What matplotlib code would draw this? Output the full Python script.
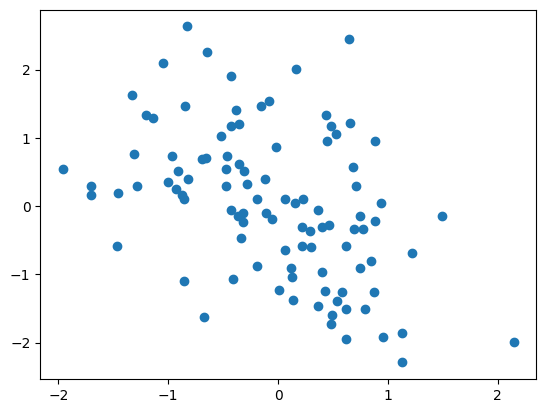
import matplotlib
matplotlib.use("Agg")
import matplotlib.pyplot as plt

x = [-0.83, 0.647, -0.647, -1.05, 0.16, -0.43, -1.33, -0.846, -0.158, -0.086,
     -0.38, -1.20, -1.14, 0.44, -0.43, -0.355, 0.48, 0.66, -0.52, 0.53,
     0.45, 0.88, -0.02, -1.315, -0.967, -0.466, -0.69, -0.66, -1.96, -0.91,
     -0.475, -0.358, -0.31, 0.68, -1.00, -0.82, -0.12, -0.285, -1.70, -1.28,
     -0.475, 0.71, -1.70, -1.46, -0.93, -0.875, -0.86, -0.19, 0.06, 0.155,
     0.225, 0.94, 0.36, -0.43, -0.36, -0.32, -0.32, -0.105, -0.057, 0.745,
     1.49, 0.215, 0.29, 0.40, 0.46, 0.69, 0.77, 0.88, -0.34, -1.47,
     0.215, 0.30, 0.62, 0.063, 1.22, 0.85, -0.19, 0.12, 0.745, 0.405,
     0.127, -0.41, -0.856, 0.006, 0.425, 0.58, 0.87, 0.136, 0.54, 0.36,
     0.62, 0.79, 0.49, -0.675, 0.48, 0.615, 0.96, 1.13, 2.146, 1.13]
y = [2.63, 2.44, 2.25, 2.09, 2.01, 1.91, 1.63, 1.47, 1.47, 1.54,
     1.40, 1.33, 1.29, 1.33, 1.17, 1.20, 1.18, 1.22, 1.02, 1.06,
     0.96, 0.95, 0.86, 0.77, 0.74, 0.74, 0.69, 0.71, 0.54, 0.52,
     0.54, 0.62, 0.52, 0.57, 0.36, 0.39, 0.40, 0.33, 0.30, 0.30,
     0.30, 0.30, 0.16, 0.185, 0.25, 0.165, 0.11, 0.10, 0.11, 0.04,
     0.10, 0.04, -0.05, -0.06, -0.14, -0.10, -0.24, -0.10, -0.195, -0.14,
     -0.14, -0.31, -0.37, -0.30, -0.28, -0.34, -0.34, -0.22, -0.47, -0.58,
     -0.58, -0.60, -0.59, -0.65, -0.69, -0.80, -0.88, -0.90, -0.91, -0.96,
     -1.04, -1.07, -1.09, -1.23, -1.25, -1.26, -1.26, -1.38, -1.395, -1.47,
     -1.51, -1.50, -1.60, -1.63, -1.73, -1.94, -1.91, -1.86, -1.995, -2.29]

fig, ax = plt.subplots(figsize=(6.4, 4.8), dpi=100)
ax.scatter(x, y)
fig.savefig("out.png", dpi=100, bbox_inches="tight")
